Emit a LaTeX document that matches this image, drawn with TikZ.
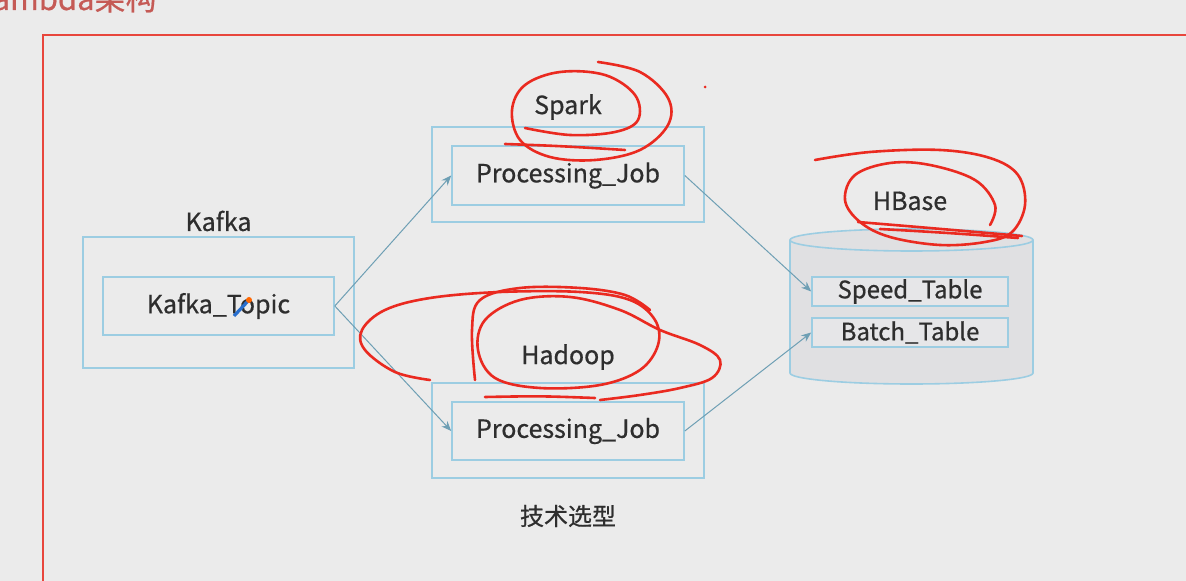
\documentclass[tikz,border=0pt]{standalone}
\usepackage{fontspec}
\setmainfont{Noto Sans CJK SC}[FakeBold=0.6,UprightFeatures={FakeBold=0.6}]
\usetikzlibrary{arrows.meta}
\definecolor{bg}{HTML}{EBEBEB}
\definecolor{boxblue}{HTML}{9CCDE2}
\definecolor{arrowc}{HTML}{6E9FB4}
\definecolor{txt}{HTML}{2E2E2E}
\definecolor{frame}{HTML}{E8463C}
\definecolor{titlec}{HTML}{C55A55}
\definecolor{scrib}{HTML}{EA2A20}
\definecolor{cylfill}{HTML}{E0E0E2}
\tikzset{
  outerbox/.style={draw=boxblue, line width=0.8pt, inner sep=0pt},
  innerbox/.style={draw=boxblue, line width=0.8pt, inner sep=0pt, text=txt, font=\fontsize{12.5}{14}\selectfont},
  tablebox/.style={draw=boxblue, line width=0.8pt, fill=cylfill!80!white, inner sep=0pt, text=txt, font=\fontsize{12}{14}\selectfont, minimum width=98pt, minimum height=14.5pt},
  lbl/.style={text=txt, font=\fontsize{12.5}{14}\selectfont, inner sep=0pt},
  conn/.style={draw=arrowc, line width=0.5pt, -{Stealth[length=5pt,width=4pt]}},
  scribble/.style={draw=scrib, line width=1.3pt, line cap=round, line join=round}
}
\begin{document}
\begin{tikzpicture}[x=0.5pt,y=-0.5pt]
\useasboundingbox (0,0) rectangle (1186,581);
\clip (0,0) rectangle (1186,581);
\fill[bg] (0,0) rectangle (1186,581);
% title and frame
\node[anchor=base east, text=titlec, font=\fontsize{15.5}{17}\selectfont, inner sep=0pt] (title) at (157,10) {Lambda架构};
\draw[frame, line width=1.4pt] (43,35) rectangle (1220,620);
% Kafka
\node[outerbox, minimum width=135.5pt, minimum height=65.5pt] (kafkaouter) at (218.5,302.5) {};
\node[innerbox, minimum width=115.5pt, minimum height=29pt] (kt) at (218.5,306) {Kafka\_Topic};
\node[lbl] (kafkalbl) at (218.5,221) {Kafka};
% Spark
\node[outerbox, minimum width=136pt, minimum height=47.5pt] (sparkouter) at (568,174.5) {};
\node[innerbox, minimum width=116pt, minimum height=29.5pt] (sj) at (568,175.5) {Processing\_Job};
\node[lbl] (sparklbl) at (568,107) {Spark};
% Hadoop
\node[outerbox, minimum width=136pt, minimum height=47.5pt] (hadoopouter) at (568,430.5) {};
\node[innerbox, minimum width=116pt, minimum height=29pt] (hj) at (568,431) {Processing\_Job};
\node[lbl] (hadooplbl) at (568,357) {Hadoop};
% HBase cylinder
\fill[cylfill] (790,240) rectangle (1033,373);
\fill[cylfill] (911.5,373) ellipse[x radius=121.5, y radius=11];
\draw[boxblue, line width=0.8pt] (790,240) -- (790,373) arc[start angle=180, end angle=0, x radius=121.5, y radius=11] -- (1033,240);
\draw[boxblue, line width=0.8pt, fill=cylfill] (911.5,240) ellipse[x radius=121.5, y radius=11];
\node[lbl] (hbaselbl) at (910,201) {HBase};
\node[tablebox] (speed) at (910,291.5) {Speed\_Table};
\node[tablebox] (batch) at (910,332.5) {Batch\_Table};
\node[lbl, font=\fontsize{12}{14}\selectfont] (caption) at (568,516) {技术选型};
% connectors
\draw[conn] (kt.east) -- (sj.west);
\draw[conn] (kt.east) -- (hj.west);
\draw[conn] (sj.east) -- (speed.west);
\draw[conn] (hj.east) -- (batch.west);
% cursor pencil
\draw[line width=1.6pt, color={rgb,255:red,40;green,110;blue,205}] (234,316) -- (249,300);
\fill[orange!80!red] (249,300) circle[radius=3];
% red scribbles
\draw[scribble] plot[smooth, tension=0.6] coordinates {(598,62) (640,72) (668,98) (668,125) (640,150) (595,160) (550,157) (520,140) (512,110) (525,85) (560,72) (605,75) (635,95) (638,120) (615,132) (570,135) (525,128)};
\draw[scribble] (505,144) .. controls (560,146) .. (625,150);
\fill[scrib] (705,87) circle[radius=1.5];
\draw[scribble] plot[smooth, tension=0.6] coordinates {(815,160) (870,152) (940,150) (990,158) (1018,175) (1025,205) (1012,232) (985,242) (940,245) (890,237) (860,222) (845,200) (855,175) (890,163) (930,165) (975,180) (995,205) (990,225)};
\draw[scribble] (858,222) .. controls (930,228) .. (1022,236);
\draw[scribble] (880,229) .. controls (950,233) .. (1018,238);
\draw[scribble] plot[smooth, tension=0.6] coordinates {(430,380) (395,372) (365,350) (362,330) (385,310) (430,298) (500,292) (580,292) (630,300) (655,320) (658,345) (640,370) (600,385) (540,388) (495,378) (478,350) (485,320) (520,300) (570,297) (620,310) (660,330) (700,345) (720,360) (712,378) (680,388) (640,395) (600,400)};
\draw[scribble] plot[smooth, tension=0.6] coordinates {(475,380) (472,330) (480,300) (520,288) (580,288) (625,295) (650,310)};
\draw[scribble] (485,397) .. controls (540,396) .. (595,398);
\end{tikzpicture}
\end{document}
